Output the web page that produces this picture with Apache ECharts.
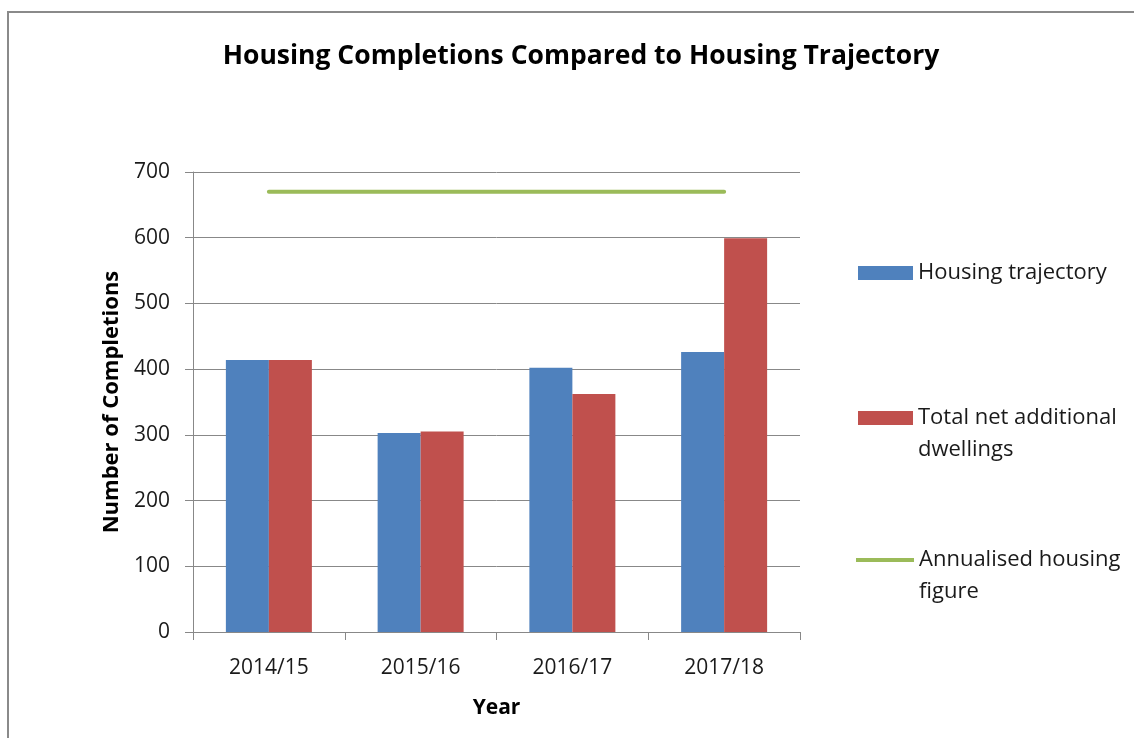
<!DOCTYPE html>
<html>
<head>
<meta charset="utf-8">
<script src="https://cdn.jsdelivr.net/npm/echarts@6/dist/echarts.min.js"></script>
<style>
  html, body { margin: 0; padding: 0; background: #fff; }
  #frame { position: absolute; left: 7px; top: 11px; width: 1140px; height: 740px;
           border-top: 2px solid #8a8a8a; border-left: 2px solid #8a8a8a; }
  #chart { position: absolute; left: 0; top: 0; width: 1134px; height: 738px; }
</style>
</head>
<body>
<div id="frame"></div>
<div id="chart"></div>
<script>
// data
const years = ["2014/15", "2015/16", "2016/17", "2017/18"];
const trajectory = [414, 303, 402, 426];
const netDwellings = [414, 305, 362, 599];
const annualised = [670, 670, 670, 670];

const font = "'Open Sans', 'Liberation Sans', sans-serif";
const chart = echarts.init(document.getElementById("chart"));

// legend icons: the filled part sits at the top so it lines up with the first text line
const boxIcon = "path://M0,0 H55 V14 H0 Z M0,46 L55,46";
const lineIcon = "path://M0,0 H58 V4 H0 Z M0,36 L58,36";
const legendText = { fontFamily: font, fontSize: 22, color: "#1a1a1a", lineHeight: 32 };

const option = {
  backgroundColor: "transparent",
  animation: false,
  title: {
    text: "Housing Completions Compared to Housing Trajectory",
    left: 576,
    top: 38,
    textAlign: "center",
    textStyle: { fontFamily: font, fontSize: 26.5, fontWeight: "bold", color: "#000" },
  },
  legend: [
    {
      data: ["Housing trajectory"],
      left: 858, top: 257, padding: 0, itemWidth: 55, itemHeight: 14, itemGap: 4,
      icon: "rect",
      itemStyle: { borderWidth: 0 },
      textStyle: legendText,
    },
    {
      data: ["Total net additional dwellings"],
      left: 858, top: 402, padding: 0, itemWidth: 55, itemHeight: 46,
      icon: boxIcon,
      itemStyle: { borderWidth: 0 },
      formatter: () => "Total net additional\ndwellings",
      textStyle: legendText,
    },
    {
      data: ["Annualised housing figure"],
      left: 856, top: 544, padding: 0, itemWidth: 58, itemHeight: 36,
      icon: lineIcon,
      itemStyle: { borderWidth: 0 },
      formatter: () => "Annualised housing\nfigure",
      textStyle: legendText,
    },
  ],
  grid: { left: 193, right: 334, top: 172, bottom: 106, containLabel: false },
  xAxis: {
    type: "category",
    data: years,
    name: "Year",
    nameLocation: "middle",
    nameGap: 66,
    nameTextStyle: { fontFamily: font, fontSize: 21, fontWeight: "bold", color: "#000" },
    axisLine: { lineStyle: { color: "#888", width: 1 } },
    axisTick: { show: true, length: 8, lineStyle: { color: "#888" } },
    axisLabel: { fontFamily: font, fontSize: 21, color: "#1a1a1a", margin: 26 },
  },
  yAxis: {
    type: "value",
    min: 0,
    max: 700,
    interval: 100,
    name: "Number of Completions",
    nameLocation: "middle",
    nameGap: 68,
    nameTextStyle: { fontFamily: font, fontSize: 22, fontWeight: "bold", color: "#000" },
    axisLine: { show: true, lineStyle: { color: "#888", width: 1 } },
    axisTick: { show: true, length: 8, lineStyle: { color: "#888" } },
    axisLabel: { fontFamily: font, fontSize: 21, color: "#1a1a1a", margin: 23 },
    splitLine: { lineStyle: { color: "#888", width: 1 } },
  },
  series: [
    {
      name: "Housing trajectory",
      type: "bar",
      data: trajectory,
      barWidth: 43,
      barGap: "0%",
      itemStyle: { color: "#4f81bd" },
    },
    {
      name: "Total net additional dwellings",
      type: "bar",
      data: netDwellings,
      barWidth: 43,
      itemStyle: { color: "#c0504d" },
    },
    {
      name: "Annualised housing figure",
      type: "line",
      data: annualised,
      showSymbol: false,
      symbol: "none",
      lineStyle: { color: "#9bbb59", width: 4, cap: "round" },
      itemStyle: { color: "#9bbb59" },
    },
  ],
};
chart.setOption(option);
</script>
</body>
</html>
